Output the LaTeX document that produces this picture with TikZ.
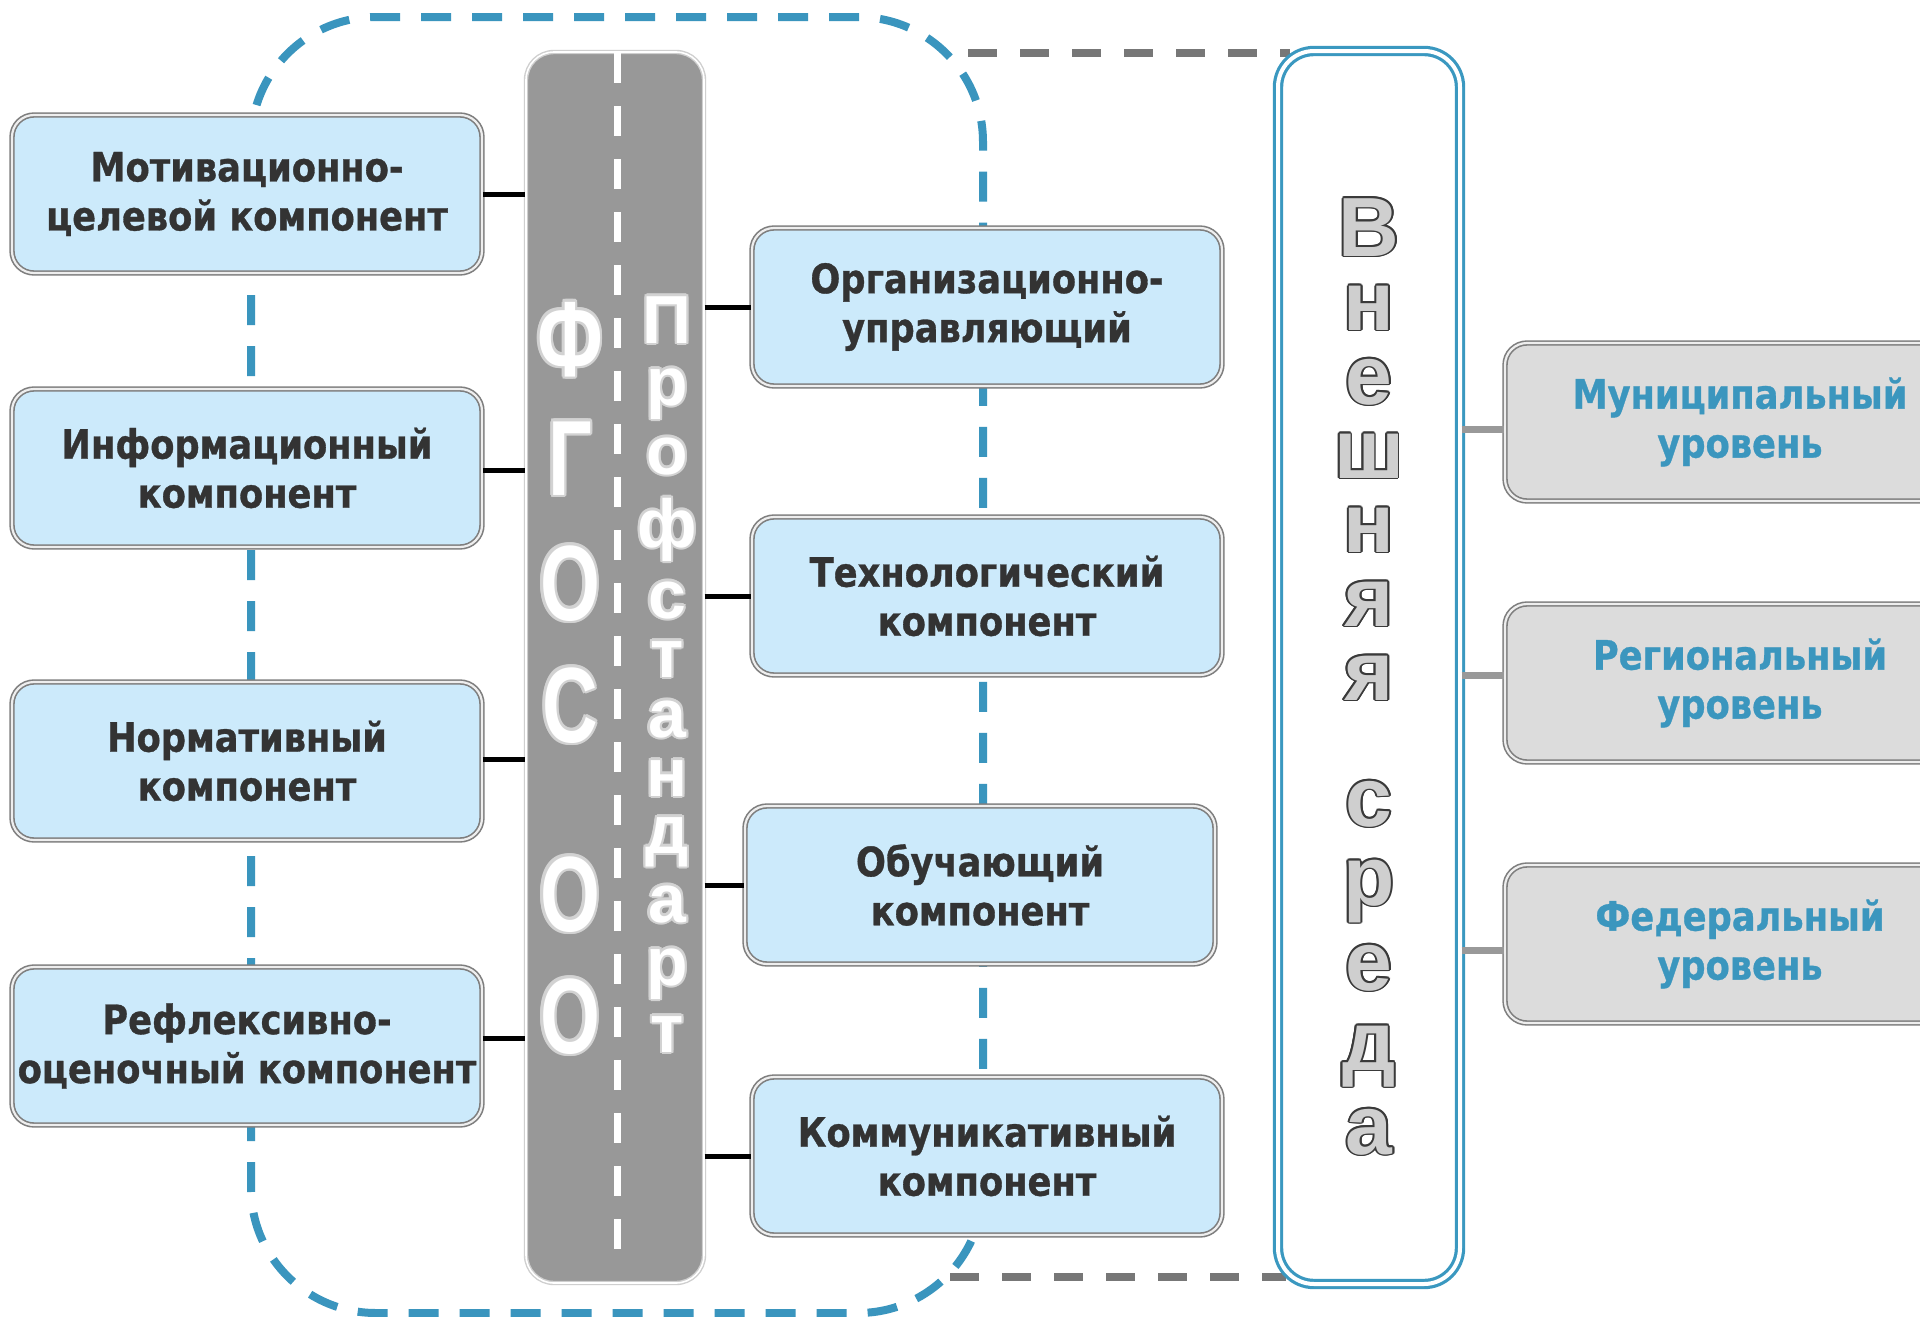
\documentclass[tikz,border=0pt]{standalone}
\usepackage{fontspec}
\newfontfamily\boxfont{DejaVu Sans}[FakeStretch=0.87,FakeBold=0.8]
\newfontfamily\arialfont{Liberation Sans}
\newfontfamily\narrowarial{Liberation Sans}[FakeStretch=0.72]
\usetikzlibrary{calc}
\pgfdeclarelayer{bg}
\pgfsetlayers{bg,main}
\definecolor{compblue}{HTML}{CCEAFB}
\definecolor{boxline}{HTML}{7E7E7E}
\definecolor{boxgap}{HTML}{EEEEEE}
\definecolor{lvlgray}{HTML}{DCDCDC}
\definecolor{bluetext}{HTML}{3B96BE}
\definecolor{textdark}{HTML}{333333}
\definecolor{barfill}{HTML}{989898}
\definecolor{barline}{HTML}{CFCFCF}
\definecolor{sredablue}{HTML}{3A98C0}
\definecolor{dashblue}{HTML}{3A95BE}
\definecolor{dashgray}{HTML}{777777}
\definecolor{connGray}{HTML}{999999}
\definecolor{outlinegray}{HTML}{3A3A3A}
\definecolor{lettergray}{HTML}{CFCFCF}
\definecolor{glowgray}{HTML}{D2D2D2}
\newcommand\ringtext[6]{%
  \foreach \ang in {0,30,...,330}{\node[#1,text=#4] at ($(#3)+(\ang:#5)$) {#6};}%
  \node[#1] (#2) at (#3) {#6};}
\begin{document}
\begin{tikzpicture}[x=1pt,y=-1pt,
  comp/.style={draw=boxline, line width=1.6pt, double=boxgap, double distance=2.2pt,
    fill=compblue, rounded corners=22pt, minimum width=470pt, minimum height=158pt,
    inner sep=0pt, align=center, text=textdark,
    font=\boxfont\bfseries\fontsize{40.5}{49}\selectfont},
  lvl/.style={comp, fill=lvlgray, text=bluetext},
  barstyle/.style={draw=barline, line width=1.4pt, double=white, double distance=1.6pt,
    fill=barfill, rounded corners=28pt, minimum width=178pt, minimum height=1231pt, inner sep=0pt},
  sredastyle/.style={draw=sredablue, line width=3.2pt, double=white, double distance=4pt,
    rounded corners=36pt, minimum width=182pt, minimum height=1233pt, inner sep=0pt},
  conn/.style={line width=5pt, black},
  gconn/.style={line width=7pt, connGray},
  bluedash/.style={draw=dashblue, line width=8pt, dash pattern=on 30pt off 21pt, rounded corners=125pt},
  graydash/.style={draw=dashgray, line width=8pt, dash pattern=on 29pt off 23pt},
  whitedash/.style={draw=white, line width=7pt, dash pattern=on 30pt off 23pt},
  fgos/.style={anchor=base, inner sep=0pt, text=white, font=\narrowarial\bfseries\fontsize{107}{107}\selectfont},
  prof/.style={anchor=base, inner sep=0pt, text=white, font=\arialfont\bfseries\fontsize{68}{68}\selectfont},
  sredaletter/.style={anchor=base, inner sep=0pt, text=lettergray, font=\arialfont\bfseries\fontsize{84}{84}\selectfont}
]
\useasboundingbox (0,0) rectangle (1920,1317);

% central bar and outer frame
\node[barstyle] (bar) at (615,667.5) {};
\node[sredastyle] (sreda) at (1369,667.5) {};

% component boxes
\node[comp] (motiv) at (247,194) {Мотивационно-\\целевой компонент};
\node[comp] (inform) at (247,468) {Информационный\\компонент};
\node[comp] (normat) at (247,761) {Нормативный\\компонент};
\node[comp] (reflex) at (247,1046) {Рефлексивно-\\оценочный компонент};
\node[comp] (org) at (987,307) {Организационно-\\управляющий};
\node[comp] (tech) at (987,596) {Технологический\\компонент};
\node[comp] (obuch) at (980,885) {Обучающий\\компонент};
\node[comp] (komm) at (987,1156) {Коммуникативный\\компонент};
\node[lvl] (munic) at (1740,422) {Муниципальный\\уровень};
\node[lvl] (region) at (1740,683) {Региональный\\уровень};
\node[lvl] (fed) at (1740,944) {Федеральный\\уровень};

% background and dashed lines
\coordinate (bd1) at (251,17);
\coordinate (bd2) at (983,1313);
\coordinate (gt) at (968,53);
\coordinate (gb) at (950,1277);
\begin{pgfonlayer}{bg}
  \fill[white] (0,0) rectangle (1920,1317);
  \draw[bluedash] (bd1) rectangle (bd2);
  \draw[graydash] (gt) -- ($(gt -| sreda.west)+(14,0)$);
  \draw[graydash] (gb) -- ($(gb -| sreda.west)+(10,0)$);
\end{pgfonlayer}

% white dashed line in bar
\coordinate (wd1) at (617,53);
\coordinate (wd2) at (617,1263);
\draw[whitedash] (wd1) -- (wd2);

% connectors
\draw[conn] (motiv.east) -- (motiv.east -| bar.west);
\draw[conn] ($(inform.east)+(0,2)$) coordinate (ic) -- (ic -| bar.west);
\draw[conn] ($(normat.east)+(0,-2)$) coordinate (nc) -- (nc -| bar.west);
\draw[conn] ($(reflex.east)+(0,-8)$) coordinate (rc) -- (rc -| bar.west);
\draw[conn] (org.west -| bar.east) -- (org.west);
\draw[conn] (tech.west -| bar.east) -- (tech.west);
\draw[conn] (obuch.west -| bar.east) -- (obuch.west);
\draw[conn] (komm.west -| bar.east) -- (komm.west);
\path ($(munic.west)+(0,7)$) coordinate (mc);
\path ($(region.west)+(0,-8)$) coordinate (regc);
\path ($(fed.west)+(0,6)$) coordinate (fc);
\draw[gconn] (mc -| sreda.east) -- (mc);
\draw[gconn] (regc -| sreda.east) -- (regc);
\draw[gconn] (fc -| sreda.east) -- (fc);

% ФГОС ОО
\ringtext{fgos}{f1}{570,376}{glowgray}{2.4}{Ф}
\ringtext{fgos}{f2}{570,495}{glowgray}{2.4}{Г}
\ringtext{fgos}{f3}{570,620}{glowgray}{2.4}{О}
\ringtext{fgos}{f4}{570,742}{glowgray}{2.4}{С}
\ringtext{fgos}{f5}{570,931}{glowgray}{2.4}{О}
\ringtext{fgos}{f6}{570,1053}{glowgray}{2.4}{О}

% Профстандарт
\ringtext{prof}{p1}{667,343}{glowgray}{2.2}{П}
\ringtext{prof}{p2}{667,405}{glowgray}{2.2}{р}
\ringtext{prof}{p3}{667,474}{glowgray}{2.2}{о}
\ringtext{prof}{p4}{667,547}{glowgray}{2.2}{ф}
\ringtext{prof}{p5}{667,618}{glowgray}{2.2}{с}
\ringtext{prof}{p6}{667,677}{glowgray}{2.2}{т}
\ringtext{prof}{p7}{667,737}{glowgray}{2.2}{а}
\ringtext{prof}{p8}{667,796}{glowgray}{2.2}{н}
\ringtext{prof}{p9}{667,853}{glowgray}{2.2}{д}
\ringtext{prof}{p10}{667,922}{glowgray}{2.2}{а}
\ringtext{prof}{p11}{667,985}{glowgray}{2.2}{р}
\ringtext{prof}{p12}{667,1052}{glowgray}{2.2}{т}

% Внешняя среда
\ringtext{sredaletter}{s1}{1369,256}{outlinegray}{1.8}{В}
\ringtext{sredaletter}{s2}{1369,330}{outlinegray}{1.8}{н}
\ringtext{sredaletter}{s3}{1369,404}{outlinegray}{1.8}{е}
\ringtext{sredaletter}{s4}{1369,478}{outlinegray}{1.8}{ш}
\ringtext{sredaletter}{s5}{1369,552}{outlinegray}{1.8}{н}
\ringtext{sredaletter}{s6}{1369,626}{outlinegray}{1.8}{я}
\ringtext{sredaletter}{s7}{1369,700}{outlinegray}{1.8}{я}
\ringtext{sredaletter}{s8}{1369,826}{outlinegray}{1.8}{с}
\ringtext{sredaletter}{s9}{1369,905}{outlinegray}{1.8}{р}
\ringtext{sredaletter}{s10}{1369,990}{outlinegray}{1.8}{е}
\ringtext{sredaletter}{s11}{1369,1070}{outlinegray}{1.8}{д}
\ringtext{sredaletter}{s12}{1369,1154}{outlinegray}{1.8}{а}
\end{tikzpicture}
\end{document}
